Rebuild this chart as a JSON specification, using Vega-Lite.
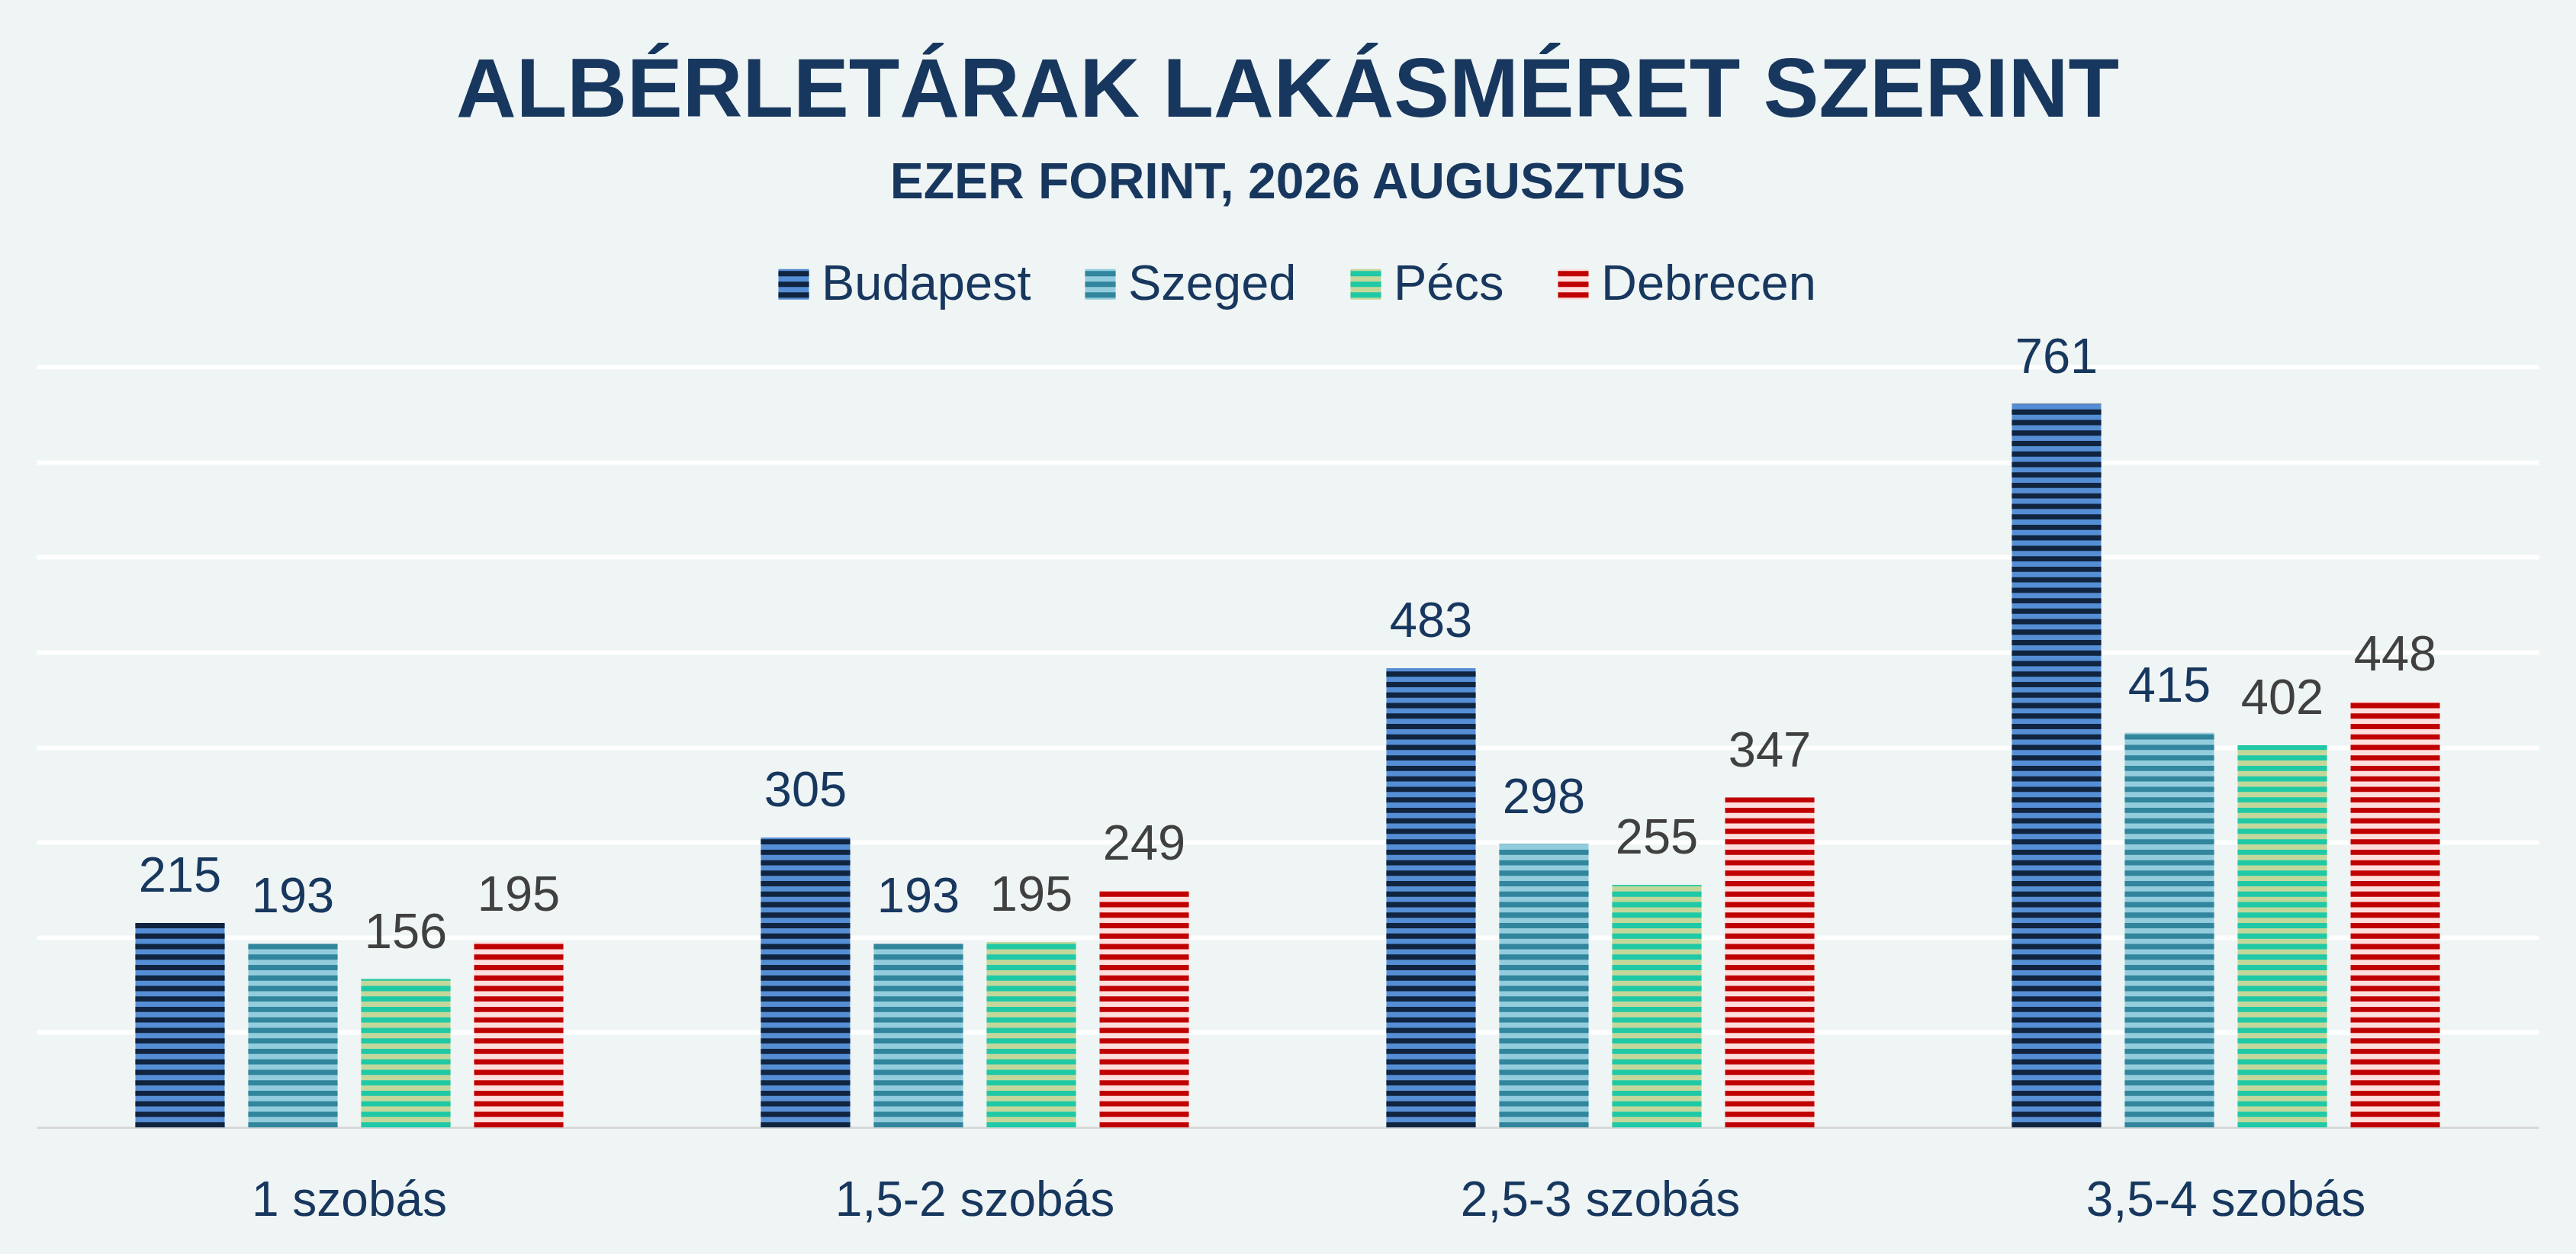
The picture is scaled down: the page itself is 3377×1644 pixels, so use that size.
{
  "$schema": "https://vega.github.io/schema/vega-lite/v6.json",
  "width": 3280,
  "height": 997,
  "autosize": "none",
  "padding": {"left": 48, "top": 481, "right": 49, "bottom": 166},
  "background": "#eff4f4",
  "title": {
    "text": "ALBÉRLETÁRAK LAKÁSMÉRET SZERINT",
    "subtitle": "EZER FORINT, 2026 AUGUSZTUS",
    "anchor": "middle",
    "font": "Liberation Sans",
    "fontSize": 109,
    "fontWeight": "bold",
    "color": "#17375e",
    "subtitleFont": "Liberation Sans",
    "subtitleFontSize": 66,
    "subtitleFontWeight": "bold",
    "subtitleColor": "#17375e",
    "subtitlePadding": 32,
    "offset": 66
  },
  "config": {
    "view": {"stroke": null},
    "legend": {
      "orient": "none",
      "direction": "horizontal",
      "legendX": 960,
      "legendY": -141,
      "padding": 0,
      "title": null,
      "labelFont": "Liberation Sans",
      "labelFontSize": 65,
      "labelColor": "#17375e",
      "labelLimit": 0,
      "labelOffset": 4,
      "columnPadding": 56,
      "symbolSize": 1600,
      "symbolStrokeWidth": 7
    }
  },
  "data": {
    "values": [
      {"meret": "1 szobás", "varos": "Budapest", "ertek": 215},
      {"meret": "1 szobás", "varos": "Szeged", "ertek": 193},
      {"meret": "1 szobás", "varos": "Pécs", "ertek": 156},
      {"meret": "1 szobás", "varos": "Debrecen", "ertek": 195},
      {"meret": "1,5-2 szobás", "varos": "Budapest", "ertek": 305},
      {"meret": "1,5-2 szobás", "varos": "Szeged", "ertek": 193},
      {"meret": "1,5-2 szobás", "varos": "Pécs", "ertek": 195},
      {"meret": "1,5-2 szobás", "varos": "Debrecen", "ertek": 249},
      {"meret": "2,5-3 szobás", "varos": "Budapest", "ertek": 483},
      {"meret": "2,5-3 szobás", "varos": "Szeged", "ertek": 298},
      {"meret": "2,5-3 szobás", "varos": "Pécs", "ertek": 255},
      {"meret": "2,5-3 szobás", "varos": "Debrecen", "ertek": 347},
      {"meret": "3,5-4 szobás", "varos": "Budapest", "ertek": 761},
      {"meret": "3,5-4 szobás", "varos": "Szeged", "ertek": 415},
      {"meret": "3,5-4 szobás", "varos": "Pécs", "ertek": 402},
      {"meret": "3,5-4 szobás", "varos": "Debrecen", "ertek": 448}
    ]
  },
  "encoding": {
    "x": {
      "field": "meret",
      "type": "nominal",
      "sort": null,
      "scale": {"paddingInner": 0, "paddingOuter": 0},
      "axis": {
        "title": null,
        "labelAngle": 0,
        "labelFont": "Liberation Sans",
        "labelFontSize": 64,
        "labelColor": "#17375e",
        "labelLimit": 0,
        "ticks": false,
        "tickSize": 0,
        "labelPadding": 64,
        "domainColor": "#d9d9d9",
        "domainWidth": 3
      }
    },
    "xOffset": {
      "field": "varos",
      "type": "nominal",
      "sort": null,
      "scale": {"paddingInner": 0.21, "paddingOuter": 0.875}
    },
    "y": {
      "field": "ertek",
      "type": "quantitative",
      "scale": {"domain": [0, 800]},
      "axis": {
        "title": null,
        "labels": false,
        "ticks": false,
        "domain": false,
        "grid": true,
        "gridColor": "#ffffff",
        "gridWidth": 6,
        "values": [100, 200, 300, 400, 500, 600, 700, 800]
      }
    }
  },
  "layer": [
    {
      "mark": {"type": "bar", "width": 117},
      "encoding": {
        "fill": {
          "field": "varos",
          "type": "nominal",
          "scale": {
            "domain": ["Budapest", "Szeged", "Pécs", "Debrecen"],
            "range": ["#558ed5", "#93cddd", "#c4d79b", "#ffdede"]
          },
          "legend": {"symbolType": "square", "symbolStrokeColor": "transparent", "labelOpacity": 0}
        }
      }
    },
    {
      "mark": {"type": "rule", "strokeWidth": 117, "strokeDash": [6.87, 6.87], "strokeCap": "butt"},
      "encoding": {
        "y": {"datum": 0, "type": "quantitative"},
        "y2": {"field": "ertek"},
        "stroke": {
          "field": "varos",
          "type": "nominal",
          "sort": null,
          "scale": {"range": ["#10243f", "#31859c", "#1fc9a6", "#c00000"]},
          "legend": {
            "symbolType": "M-1,-0.7H1M-1,0H1M-1,0.7H1",
            "symbolDash": [1, 0]
          }
        }
      }
    },
    {
      "mark": {
        "type": "text",
        "dy": -41,
        "baseline": "alphabetic",
        "align": "center",
        "font": "Liberation Sans",
        "fontSize": 65
      },
      "encoding": {
        "text": {"field": "ertek", "type": "quantitative"},
        "fill": {
          "condition": {"test": "datum.varos === 'Budapest' || datum.varos === 'Szeged'", "value": "#17375e"},
          "value": "#404040"
        }
      }
    }
  ]
}
